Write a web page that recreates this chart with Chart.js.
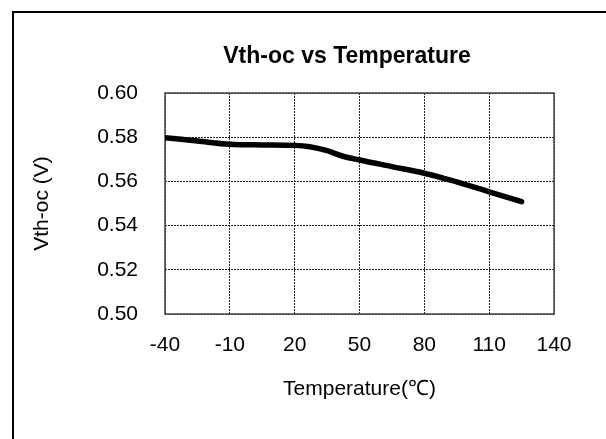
<!DOCTYPE html>
<html>
<head>
<meta charset="utf-8">
<script src="https://cdn.jsdelivr.net/npm/chart.js@4.4.1/dist/chart.umd.min.js"></script>
<style>
  html, body { margin: 0; padding: 0; background: #fff; overflow: hidden; }
  canvas { display: block; }
</style>
</head>
<body>
<canvas id="c" width="606" height="439"></canvas>
<script>
// ---- data ----
const temperatures = [-40, -25, -10, 5, 20, 27, 35, 42, 50, 65, 80, 89, 95, 110, 125];
const vthOc        = [0.5798, 0.5783, 0.5768, 0.5765, 0.5763, 0.5757, 0.5739, 0.5715, 0.5697, 0.5667, 0.5637, 0.5614, 0.5598, 0.5553, 0.5508];
const xTickValues  = [-40, -10, 20, 50, 80, 110, 140];
const yTickValues  = [0.50, 0.52, 0.54, 0.56, 0.58, 0.60];
const chartTitle   = 'Vth-oc vs Temperature';
const xAxisTitle   = 'Temperature(℃)';
const yAxisTitle   = 'Vth-oc (V)';

const FONT = "'Liberation Sans', Arial, Helvetica, sans-serif";

const framePlugin = {
  id: 'frame',
  beforeDraw(chart) {
    const ctx = chart.ctx;
    ctx.save();
    ctx.fillStyle = '#fff';
    ctx.fillRect(0, 0, chart.width, chart.height);
    ctx.fillStyle = '#000';
    ctx.fillRect(12, 11, chart.width - 12, 2);
    ctx.fillRect(12, 11, 2, chart.height - 11);
    ctx.restore();
  },
  beforeDatasetsDraw(chart) {
    const a = chart.chartArea;
    const ctx = chart.ctx;
    ctx.save();
    ctx.strokeStyle = '#444';
    ctx.lineWidth = 1.5;
    ctx.strokeRect(a.left, a.top, a.right - a.left, a.bottom - a.top);
    ctx.restore();
  }
};

new Chart(document.getElementById('c'), {
  type: 'line',
  data: {
    datasets: [{
      data: temperatures.map((t, i) => ({ x: t, y: vthOc[i] })),
      borderColor: '#000',
      borderWidth: 5.5,
      borderCapStyle: 'round',
      borderJoinStyle: 'round',
      pointRadius: 0,
      fill: false,
      cubicInterpolationMode: 'monotone',
      xAxisID: 'x',
      yAxisID: 'y'
    }]
  },
  options: {
    responsive: false,
    animation: false,
    layout: { padding: { left: 88, right: 0, top: 12, bottom: 0 } },
    plugins: {
      legend: { display: false },
      tooltip: { enabled: false },
      title: {
        display: true,
        text: chartTitle,
        color: '#000',
        font: { family: FONT, size: 23, weight: 'bold' },
        padding: { top: 31, bottom: 22.4 }
      }
    },
    scales: {
      x: {
        type: 'linear',
        min: -40, max: 140,
        afterBuildTicks: s => { s.ticks = xTickValues.map(v => ({ value: v })); },
        afterFit: s => { s.height = 125; },
        ticks: { padding: 19, color: '#000', font: { family: FONT, size: 21 }, autoSkip: false, maxRotation: 0 },
        grid: { color: '#222', lineWidth: 1, drawTicks: false },
        border: { display: false, dash: [2, 1] },
        title: { display: true, text: xAxisTitle, color: '#000', font: { family: FONT, size: 21 }, padding: { top: 20, bottom: 37 } }
      },
      y: {
        type: 'linear',
        position: 'left',
        min: 0.5, max: 0.6,
        afterBuildTicks: s => { s.ticks = yTickValues.map(v => ({ value: v })); },
        afterFit: s => { s.width = 77; },
        ticks: { padding: 27, color: '#000', font: { family: FONT, size: 21 }, autoSkip: false, callback: v => Number(v).toFixed(2) },
        grid: { color: '#222', lineWidth: 1, drawTicks: false },
        border: { display: false, dash: [2, 1] },
        title: { display: true, text: yAxisTitle, color: '#000', font: { family: FONT, size: 21 }, padding: { top: -58, bottom: 0 } }
      },
      yRight: {
        type: 'linear',
        position: 'right',
        display: true,
        min: 0.5, max: 0.6,
        afterFit: s => { s.width = 52; },
        ticks: { display: false },
        grid: { display: false, drawTicks: false },
        border: { display: false }
      }
    }
  },
  plugins: [framePlugin]
});
</script>
</body>
</html>
